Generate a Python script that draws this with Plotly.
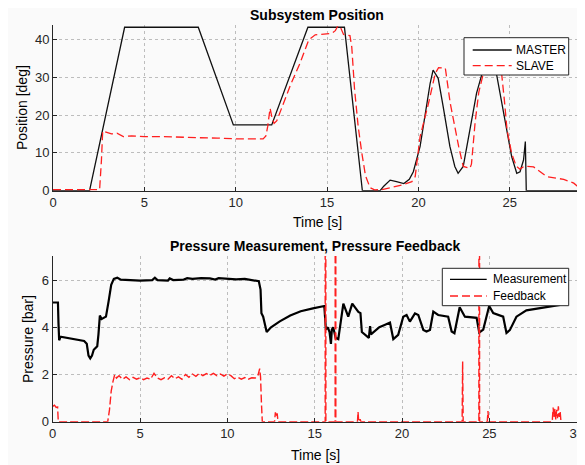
import plotly.graph_objects as go

# ---------------- data ----------------
master_t = [0, 2.0, 3.92, 7.95, 9.87, 11.97, 13.95, 15.95, 16.93, 17.9, 18.1, 18.45, 18.8, 19.2,
            19.5, 19.72, 20.09, 20.36, 20.64, 20.8, 21.08, 21.35, 21.72, 21.99, 22.17, 22.45, 22.8,
            23.18, 23.46, 23.7, 23.87, 24.05, 24.28, 24.56, 24.83, 25.1, 25.38, 25.56, 25.75, 25.85,
            25.9, 28.95]
master_v = [0, 0, 43.2, 43.2, 17.4, 17.4, 43.2, 43.2, 0, 0, 1.2, 2.8, 2.4, 1.9,
            3.0, 5.0, 11.7, 20.5, 28.4, 31.9, 29.7, 22.3, 11.7, 6.4, 4.6, 6.4, 16.1,
            25.8, 30.6, 32.6, 33.0, 32.4, 30.6, 23.1, 15.2, 9.0, 4.6, 5.0, 8.1, 13.0,
            0, 0]

slave_t = [0, 2.55, 2.65, 2.72, 2.9, 3.2, 3.5, 3.85, 4.3, 5.0, 6.0, 7.0, 8.0, 9.0, 10.0, 11.5,
           11.65, 11.75, 11.88, 12.0, 12.1, 12.25, 13.0, 13.5, 14.0, 14.35, 15.25, 15.45, 15.6,
           15.75, 15.9, 16.25, 16.35, 16.5, 16.7, 16.9, 17.1, 17.35, 17.6, 18.0, 19.09, 19.64,
           19.82, 20.09, 20.55, 20.92, 21.1, 21.47, 21.74, 22.2, 22.45, 22.81, 22.9, 23.1, 23.3,
           23.55, 23.9, 24.3, 24.55, 24.7, 24.85, 25.1, 25.35, 25.55, 25.8, 26.3, 27.03, 27.95,
           28.5, 28.95]
slave_v = [0.3, 0.3, 8.0, 15.8, 15.5, 15.0, 15.2, 14.3, 14.5, 14.3, 14.3, 14.1, 14.0, 13.9, 13.7, 13.7,
           14.5, 17.0, 21.8, 19.0, 17.8, 18.5, 28.0, 33.5, 39.9, 41.2, 41.6, 42.3, 43.6,
           43.0, 41.3, 41.0, 38.0, 27.0, 17.0, 10.0, 4.0, 0.8, 0.2, 0.3, 1.5, 2.4,
           3.7, 14.3, 23.1, 31.0, 32.5, 32.4, 23.1, 11.7, 6.4, 5.9, 7.0, 18.0, 26.0,
           31.0, 33.0, 33.0, 31.0, 24.0, 16.0, 9.9, 6.5, 5.7, 6.5, 6.3, 3.7, 3.0,
           2.0, 0.2]

meas_t = [0, 0.3, 0.33, 0.37, 0.45, 0.8, 1.3, 1.8, 1.95, 2.05, 2.15, 2.25, 2.35, 2.55, 2.62, 2.7,
          2.8, 2.95, 3.05, 3.2, 3.35, 3.5, 3.7, 3.9, 4.5, 5.0, 5.7, 5.85, 6.0, 6.6, 6.7, 6.9, 7.5,
          7.7, 8.0, 8.5, 9.0, 9.3, 9.5, 10.0, 10.5, 11.0, 11.5, 11.8, 11.9, 11.95, 12.05, 12.15,
          12.25, 12.5, 13.0, 13.6, 14.2, 14.9, 15.3, 15.55, 15.64, 15.75, 15.85, 15.93, 15.98,
          16.06, 16.2, 16.35, 16.64, 16.92, 17.15, 17.5, 17.62, 17.7, 18.1, 18.17, 18.22, 18.7,
          19.0, 19.31, 19.5, 19.78, 20.07, 20.26, 20.45, 20.74, 20.93, 21.22, 21.4, 21.6, 21.79,
          22.07, 22.64, 22.84, 23.0, 23.3, 23.6, 24.27, 24.42, 24.65, 24.99, 25.22, 25.79, 25.98,
          26.17, 26.55, 27.12, 27.88, 28.46, 29.05]
meas_v = [5.05, 5.05, 4.2, 3.45, 3.6, 3.55, 3.48, 3.42, 3.3, 2.8, 2.68, 2.8, 3.05, 3.2, 3.7, 4.5,
          4.35, 4.4, 4.45, 5.1, 5.8, 6.05, 6.1, 6.02, 6.0, 5.98, 6.0, 6.1, 6.0, 5.98, 6.07, 6.0, 6.02,
          6.08, 6.05, 6.08, 6.07, 6.02, 6.08, 6.06, 6.03, 6.05, 6.0, 5.95, 5.6, 4.6, 4.45, 4.1,
          3.8, 4.0, 4.25, 4.5, 4.68, 4.8, 4.85, 4.9, 3.9, 4.0, 3.8, 3.3, 3.9,
          4.0, 3.55, 3.5, 5.0, 4.45, 5.0, 4.65, 4.6, 3.8, 3.55, 4.05, 3.7, 4.0,
          4.1, 4.2, 3.5, 3.68, 4.45, 4.52, 4.24, 4.59, 4.52, 3.89, 3.82, 3.89, 4.66,
          4.52, 4.45, 3.82, 3.75, 4.85, 4.45, 4.4, 3.78, 3.9, 4.9, 4.6, 4.45, 3.76,
          3.88, 4.45, 4.72, 4.8, 4.87, 4.95]

fb_t = [0, 0.1, 0.2, 0.28, 0.32, 3.15, 3.25, 3.35, 3.45, 3.55, 3.65, 3.8, 4.0, 4.2, 4.4, 4.6,
        4.8, 5.0, 5.2, 5.4, 5.6, 5.8, 6.0, 6.2, 6.4, 6.6, 6.8, 7.0, 7.2, 7.4, 7.6, 7.8, 8.0, 8.2,
        8.4, 8.6, 8.8, 9.0, 9.2, 9.4, 9.6, 9.8, 10.0, 10.2, 10.4, 10.6, 10.8, 11.0, 11.2, 11.4,
        11.6, 11.75, 11.85, 11.9, 11.95, 12.0, 12.7, 12.75, 12.8, 12.85, 12.9,
        15.6, 15.61, 15.62, 15.63, 15.64, 16.17, 16.18, 16.19, 16.2, 16.21,
        17.45, 17.48, 17.52, 17.6, 17.65, 23.44,
        23.47, 23.5, 24.4, 24.42, 24.44, 24.88, 24.92, 24.96, 28.6, 28.65, 28.7, 28.75, 28.8,
        28.85, 28.9, 28.95, 29.0, 29.05, 29.1]
fb_v = [0.65, 0.7, 0.6, 0.62, 0.0, 0.0, 0.5, 1.3, 1.7, 2.0, 1.85, 1.95, 1.8, 1.9, 1.78, 1.88,
        1.8, 1.86, 1.78, 1.85, 1.8, 2.05, 1.85, 1.78, 1.86, 1.8, 1.95, 1.82, 1.9, 1.8, 2.0, 1.88,
        2.02, 1.92, 2.05, 1.95, 2.04, 1.96, 2.05, 1.95, 2.02, 1.93, 2.03, 1.95, 1.82, 1.88, 1.8,
        1.87, 1.8, 1.86, 1.85, 1.95, 2.25, 1.9, 0.8, 0.0, 0.0, 0.4, 0.2, 0.35, 0.0,
        0.0, 60, 0.0, 60, 0.0, 0.0, 60, 0.0, 60, 0.0,
        0.0, 0.42, 0.0, 0.1, 0.0, 0.0, 2.55, 0.0, 0.0, 60, 0.0,
        0.0, 0.45, 0.0, 0.0, 0.6, 0.2, 0.55, 0.1, 0.5, 0.15, 0.65, 0.2, 0.45, 0.0]

top_xticks = [0, 5, 10, 15, 20, 25]
top_yticks = [0, 10, 20, 30, 40]
bot_xticks = [0, 5, 10, 15, 20, 25, 30]
bot_yticks = [0, 2, 4, 6]

top_names = ["MASTER", "SLAVE"]
bot_names = ["Measurement", "Feedback"]

# ---------------- figure ----------------
# the page places the figure 8px from the top-left corner of the window
OFF = 8
W, H = 585 - OFF, 465 - OFF
FONT = "Liberation Sans, Arial, sans-serif"
RED = "#ff1f1f"
BG = "#fafafa"
DASH = "8px,4px"

def fx(px):
    return (px - OFF) / W

def fy(py):
    return 1 - (py - OFF) / H

fig = go.Figure()
fig.add_trace(go.Scatter(x=master_t, y=master_v, mode="lines", name=top_names[0],
                         line=dict(color="#111111", width=1.3), xaxis="x", yaxis="y"))
fig.add_trace(go.Scatter(x=slave_t, y=slave_v, mode="lines", name=top_names[1],
                         line=dict(color=RED, width=1.3, dash=DASH), xaxis="x", yaxis="y"))
fig.add_trace(go.Scatter(x=meas_t, y=meas_v, mode="lines", name=bot_names[0],
                         line=dict(color="#000000", width=2.2), xaxis="x2", yaxis="y2"))
fig.add_trace(go.Scatter(x=fb_t, y=fb_v, mode="lines", name=bot_names[1],
                         line=dict(color=RED, width=1.4, dash="8px,3px"), xaxis="x2", yaxis="y2"))

axis_common = dict(showline=True, linecolor="#262626", linewidth=1, ticks="inside", ticklen=4,
                   tickcolor="#262626", showgrid=True, gridcolor="#bdbdbd", griddash="dot",
                   gridwidth=1, zeroline=False, mirror=False, automargin=False,
                   tickfont=dict(family=FONT, size=13, color="#262626"))

fig.update_layout(
    width=W, height=H,
    margin=dict(l=0, r=0, t=0, b=0),
    paper_bgcolor=BG, plot_bgcolor=BG,
    font=dict(family=FONT, color="#000000"),
    showlegend=False,
    xaxis=dict(domain=[fx(53), fx(582)], range=[0, 28.95], tickvals=top_xticks,
               anchor="y", **axis_common),
    yaxis=dict(domain=[fy(190.7), fy(25)], range=[0, 43.8], tickvals=top_yticks,
               anchor="x", **axis_common),
    xaxis2=dict(domain=[fx(52.7), fx(576.7)], range=[0, 30], tickvals=bot_xticks,
                anchor="y2", **axis_common),
    yaxis2=dict(domain=[fy(421.7), fy(256)], range=[0, 7.02], tickvals=bot_yticks,
                anchor="x2", **axis_common),
)

# --- legends drawn as boxes (MATLAB style) ---
def legend_box(x0, y0, x1, y1, rows, line_x0, line_x1, text_x, names, styles):
    fig.add_shape(type="rect", xref="paper", yref="paper", x0=fx(x0), x1=fx(x1),
                  y0=fy(y1), y1=fy(y0), line=dict(color="#262626", width=1),
                  fillcolor="#ffffff", layer="above")
    for ry, name, st in zip(rows, names, styles):
        fig.add_shape(type="line", xref="paper", yref="paper", x0=fx(line_x0), x1=fx(line_x1),
                      y0=fy(ry), y1=fy(ry), line=st, layer="above")
        fig.add_annotation(text=name, x=fx(text_x), y=fy(ry), xref="paper", yref="paper",
                           xanchor="left", yanchor="middle", showarrow=False,
                           font=dict(family=FONT, size=12, color="#000000"))

legend_box(464, 37.7, 568.7, 75, [50, 65.7], 472.7, 511.7, 513.5, top_names,
           [dict(color="#111111", width=1.3), dict(color=RED, width=1.3, dash=DASH)])
legend_box(442.3, 268.3, 568.7, 305.7, [279.3, 296], 450, 486.7, 490.5, bot_names,
           [dict(color="#000000", width=1.3), dict(color=RED, width=1.3, dash=DASH)])

annos = [
    dict(text="<b>Subsystem Position</b>", x=317, y=15, angle=0),
    dict(text="<b>Pressure Measurement, Pressure Feedback</b>", x=315, y=246, angle=0),
    dict(text="Time [s]", x=317, y=222, angle=0),
    dict(text="Time [s]", x=315, y=455, angle=0),
    dict(text="Position [deg]", x=22, y=108, angle=-90),
    dict(text="Pressure [bar]", x=28, y=339, angle=-90),
]
for a in annos:
    fig.add_annotation(text=a["text"], x=fx(a["x"]), y=fy(a["y"]), xref="paper", yref="paper",
                       xanchor="center", yanchor="middle", showarrow=False, textangle=a["angle"],
                       font=dict(family=FONT, size=14, color="#000000"))

fig.write_html("out.html")
